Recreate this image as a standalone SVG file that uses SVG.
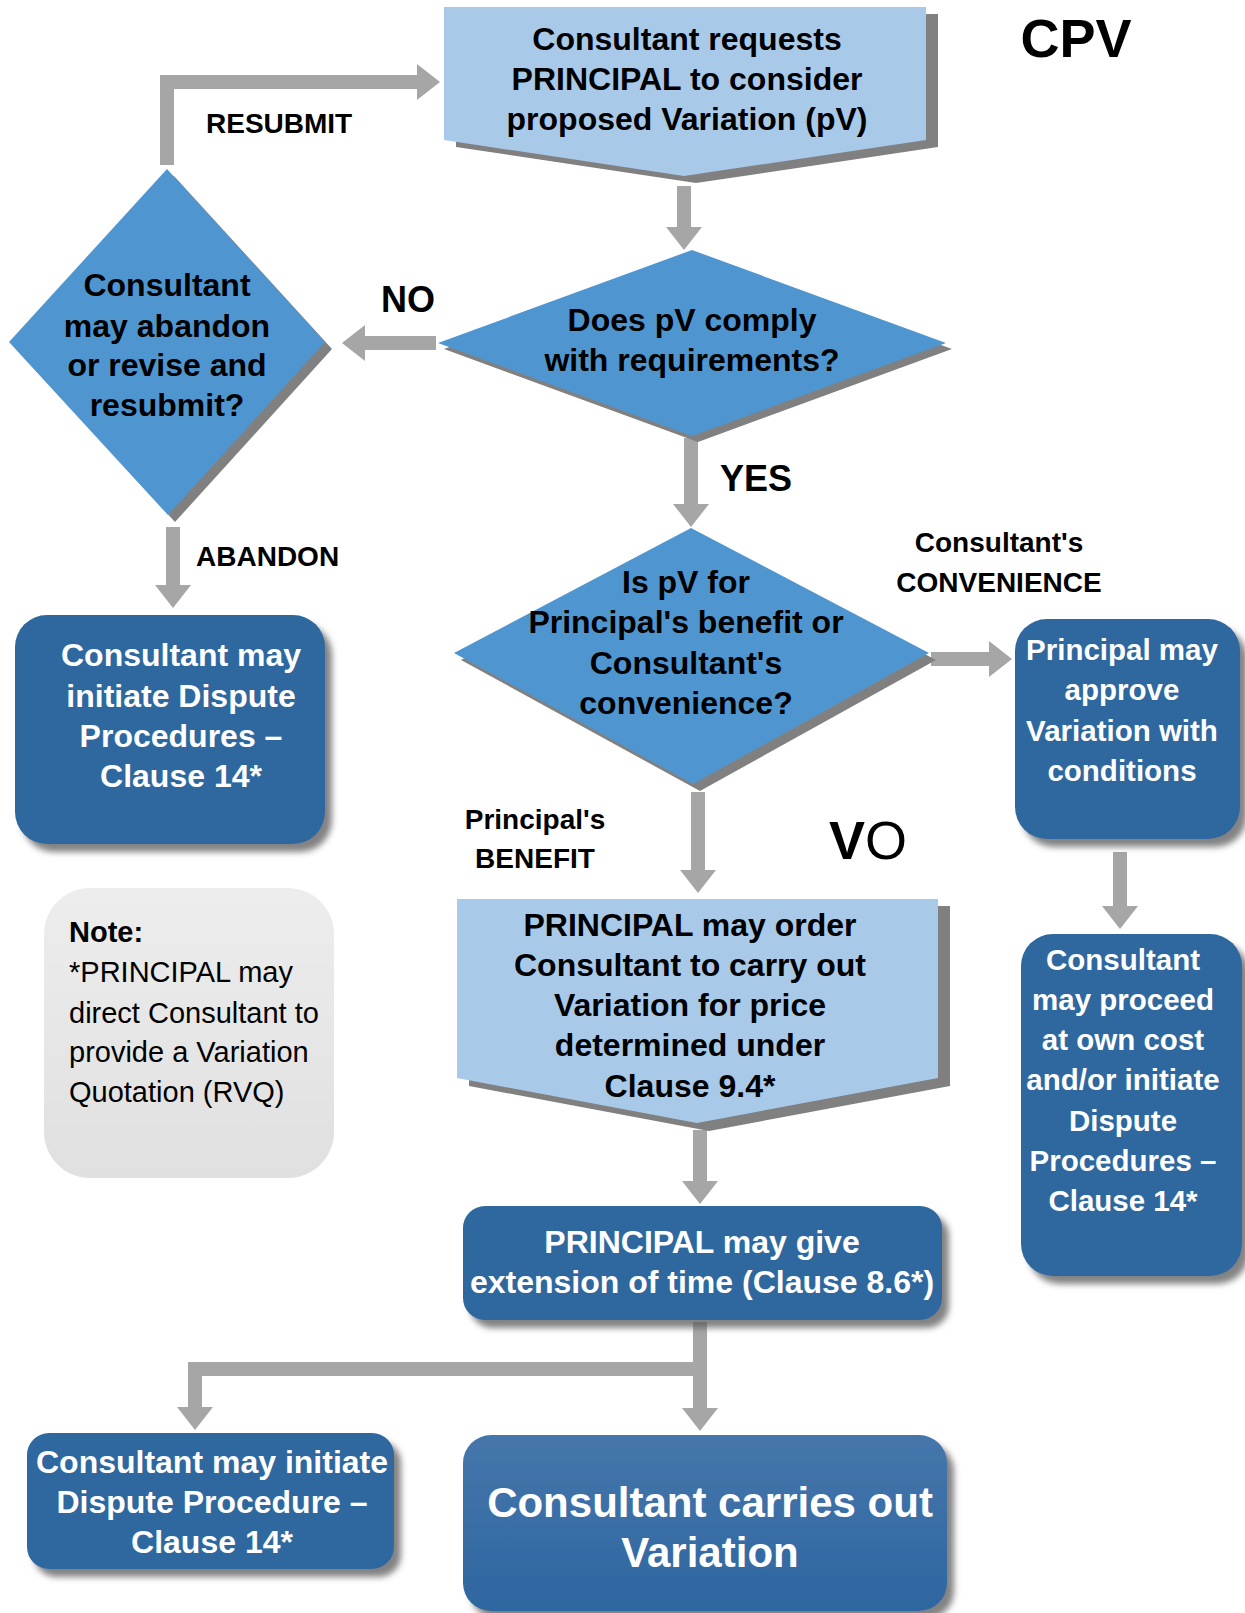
<svg xmlns="http://www.w3.org/2000/svg" width="1245" height="1613" viewBox="0 0 1245 1613">
<defs>
<marker id="ah" markerUnits="userSpaceOnUse" markerWidth="24" markerHeight="36" refX="1" refY="18" orient="auto">
<path d="M0,0 L23,18 L0,36 z" fill="#A6A6A6"/>
</marker>
<filter id="soft" x="-10%" y="-10%" width="130%" height="130%">
<feDropShadow dx="7" dy="8" stdDeviation="3" flood-color="#5a5a5a" flood-opacity="0.75"/>
</filter>
<linearGradient id="noteg" x1="0" y1="0" x2="0" y2="1">
<stop offset="0" stop-color="#EDEDED"/><stop offset="1" stop-color="#E0E0E0"/>
</linearGradient>
<linearGradient id="finalg" x1="0" y1="0" x2="0" y2="1">
<stop offset="0" stop-color="#4576AB"/><stop offset="1" stop-color="#2E66A0"/>
</linearGradient>
</defs>
<style>
text{font-family:"Liberation Sans",Arial,sans-serif}
.t{font-weight:bold;font-size:32px;fill:#000;text-anchor:middle}
.w{font-weight:bold;font-size:32px;fill:#fff;text-anchor:middle}
.w29{font-weight:bold;font-size:29.5px;fill:#fff;text-anchor:middle}
.lbl{font-weight:bold;font-size:28px;fill:#000}
.big{font-weight:bold;font-size:36px;fill:#000}
.light{fill:#A9C9E9}
.dia{fill:#4F96D1}
.dark{fill:#2E689F}
.shd{fill:#808080}
.conn{fill:none;stroke:#A6A6A6;stroke-width:14;stroke-linejoin:miter;marker-end:url(#ah)}
.note{font-size:29px;fill:#000}
</style>

<g id="connectors">
<path class="conn" d="M167,165 V82 H418"/>
<path class="conn" d="M684,186 V228"/>
<path class="conn" d="M436,343 H364"/>
<path class="conn" d="M691,438 V505"/>
<path class="conn" d="M173,527 V586"/>
<path class="conn" d="M931,659 H990"/>
<path class="conn" d="M1120,852 V907"/>
<path class="conn" d="M698,792 V871"/>
<path class="conn" d="M700,1130 V1182"/>
<path class="conn" d="M700,1322 V1409"/>
<path class="conn" d="M700,1369 H195 V1408"/>
</g>

<g id="labels">
<text x="1076" y="57" style="font-weight:bold;font-size:54px;fill:#000" text-anchor="middle">CPV</text>
<text class="lbl" x="206" y="133">RESUBMIT</text>
<text class="big" x="381" y="312">NO</text>
<text class="big" x="720" y="491">YES</text>
<text class="lbl" x="196" y="566">ABANDON</text>
<text class="lbl" x="999" y="552" text-anchor="middle">Consultant's</text>
<text class="lbl" x="999" y="592" text-anchor="middle">CONVENIENCE</text>
<text class="lbl" x="535" y="829" text-anchor="middle">Principal's</text>
<text class="lbl" x="535" y="868" text-anchor="middle">BENEFIT</text>
<text x="829" y="859" style="font-size:54px;fill:#000"><tspan font-weight="bold">V</tspan>O</text>
</g>

<g id="n-request">
<polygon class="shd" points="456,14 938,14 938,147 696,183 456,147"/>
<polygon class="light" points="444,7 926,7 926,140 684,176 444,140"/>
<text class="t" x="687" y="50">Consultant requests</text>
<text class="t" x="687" y="90">PRINCIPAL to consider</text>
<text class="t" x="687" y="130">proposed Variation (pV)</text>
</g>

<g id="n-abandon">
<polygon class="shd" points="174,176 332,349 175,522 16,349"/>
<polygon class="dia" points="167,169 325,342 168,515 9,342"/>
<text class="t" x="167" y="296">Consultant</text>
<text class="t" x="167" y="337">may abandon</text>
<text class="t" x="167" y="376">or revise and</text>
<text class="t" x="167" y="416">resubmit?</text>
</g>

<g id="n-comply">
<polygon class="shd" points="698,256 952,349 698,442 444,349"/>
<polygon class="dia" points="692,250 946,343 692,436 438,343"/>
<text class="t" x="692" y="331">Does pV comply</text>
<text class="t" x="692" y="371">with requirements?</text>
</g>

<g id="n-benefit">
<polygon class="shd" points="698,535 936,660 700,791 461,660"/>
<polygon class="dia" points="691,528 929,653 693,784 454,653"/>
<text class="t" x="686" y="593">Is pV for</text>
<text class="t" x="686" y="633">Principal's benefit or</text>
<text class="t" x="686" y="674">Consultant's</text>
<text class="t" x="686" y="714">convenience?</text>
</g>

<g id="n-dispute1">
<rect class="dark" x="15" y="615" width="310" height="229" rx="32" filter="url(#soft)"/>
<text class="w" x="181" y="666">Consultant may</text>
<text class="w" x="181" y="707">initiate Dispute</text>
<text class="w" x="181" y="747">Procedures –</text>
<text class="w" x="181" y="787">Clause 14*</text>
</g>

<g id="n-note">
<rect x="44" y="888" width="290" height="290" rx="46" fill="url(#noteg)"/>
<text class="note" x="69" y="942" font-weight="bold">Note:</text>
<text class="note" x="69" y="982">*PRINCIPAL may</text>
<text class="note" x="69" y="1023">direct Consultant to</text>
<text class="note" x="69" y="1062">provide a Variation</text>
<text class="note" x="69" y="1102">Quotation (RVQ)</text>
</g>

<g id="n-approve">
<rect class="dark" x="1015" y="619" width="225" height="220" rx="32" filter="url(#soft)"/>
<text class="w29" x="1122" y="660">Principal may</text>
<text class="w29" x="1122" y="700">approve</text>
<text class="w29" x="1122" y="741">Variation with</text>
<text class="w29" x="1122" y="781">conditions</text>
</g>

<g id="n-proceed">
<rect class="dark" x="1021" y="934" width="221" height="342" rx="32" filter="url(#soft)"/>
<text class="w29" x="1123" y="970">Consultant</text>
<text class="w29" x="1123" y="1010">may proceed</text>
<text class="w29" x="1123" y="1050">at own cost</text>
<text class="w29" x="1123" y="1090">and/or initiate</text>
<text class="w29" x="1123" y="1131">Dispute</text>
<text class="w29" x="1123" y="1171">Procedures –</text>
<text class="w29" x="1123" y="1211">Clause 14*</text>
</g>

<g id="n-order">
<polygon class="shd" points="469,906 950,906 950,1086 709,1131 469,1086"/>
<polygon class="light" points="457,899 938,899 938,1078 697,1123 457,1078"/>
<text class="t" x="690" y="936">PRINCIPAL may order</text>
<text class="t" x="690" y="976">Consultant to carry out</text>
<text class="t" x="690" y="1016">Variation for price</text>
<text class="t" x="690" y="1056">determined under</text>
<text class="t" x="690" y="1097">Clause 9.4*</text>
</g>

<g id="n-eot">
<rect class="dark" x="463" y="1206" width="479" height="114" rx="22" filter="url(#soft)"/>
<text class="w" x="702" y="1253">PRINCIPAL may give</text>
<text class="w" x="702" y="1293">extension of time (Clause 8.6*)</text>
</g>

<g id="n-dispute2">
<rect class="dark" x="27" y="1433" width="367" height="136" rx="22" filter="url(#soft)"/>
<text class="w" x="212" y="1473">Consultant may initiate</text>
<text class="w" x="212" y="1513">Dispute Procedure –</text>
<text class="w" x="212" y="1553">Clause 14*</text>
</g>

<g id="n-carry">
<rect x="463" y="1435" width="484" height="176" rx="28" fill="url(#finalg)" filter="url(#soft)"/>
<text class="w" x="710" y="1517" style="font-size:42px">Consultant carries out</text>
<text class="w" x="710" y="1567" style="font-size:42px">Variation</text>
</g>
</svg>
